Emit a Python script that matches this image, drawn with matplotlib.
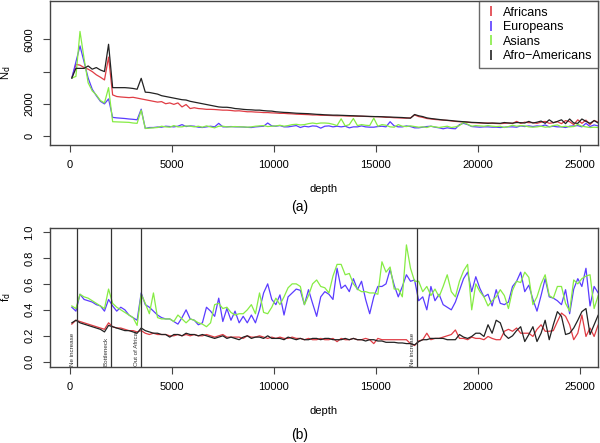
import numpy as np
import matplotlib.pyplot as plt
from matplotlib.lines import Line2D

plt.rcParams['font.family'] = ['Liberation Sans', 'DejaVu Sans']

# depth grid (one sample every 200)
depth = np.arange(100, 26101, 200)

groups = ["Africans", "Europeans", "Asians", "Afro\u2212Americans"]
colors = ["#e03c44", "#5a3cff", "#86ec44", "#222222"]

# (a) N_d
nd_afr = [3600, 4450, 4400, 4250, 4150, 4000, 3800, 3650, 3480, 4900,
          2550, 2450, 2420, 2400, 2380, 2400, 2350, 2300, 2250, 2200,
          2150, 2100, 2130, 2000, 2050, 1960, 2050, 1800, 1950, 1700,
          1750, 1700, 1680, 1650, 1650, 1640, 1620, 1600, 1600, 1580,
          1550, 1560, 1530, 1500, 1500, 1480, 1470, 1450, 1450, 1430,
          1420, 1400, 1400, 1380, 1370, 1350, 1340, 1330, 1320, 1300,
          1300, 1280, 1280, 1270, 1260, 1250, 1250, 1240, 1230, 1230,
          1220, 1220, 1210, 1200, 1200, 1190, 1180, 1150, 1150, 1130,
          1120, 1110, 1100, 1120, 1300, 1200, 1150, 1080, 1050, 1020,
          1000, 980, 960, 930, 900, 880, 870, 850, 820, 820,
          800, 790, 800, 780, 770, 760, 780, 800, 770, 900,
          780, 850, 820, 830, 780, 850, 900, 780, 820, 880,
          760, 950, 880, 700, 1000, 780, 980, 700, 960, 850,
          900]
nd_eur = [3600, 4600, 5600, 4600, 3600, 2900, 2500, 2150, 1990, 2300,
          1150, 1120, 1100, 1080, 1050, 1030, 1000, 1660, 460, 520,
          520, 550, 540, 600, 580, 560, 600, 700, 580, 620,
          600, 540, 520, 560, 600, 560, 780, 560, 560, 580,
          560, 560, 550, 530, 520, 560, 580, 600, 800, 620,
          600, 640, 560, 560, 600, 640, 520, 600, 560, 620,
          600, 480, 600, 620, 560, 600, 560, 600, 500, 560,
          560, 620, 560, 540, 540, 580, 600, 560, 880, 620,
          560, 560, 620, 580, 500, 500, 540, 580, 600, 540,
          500, 440, 500, 460, 440, 700, 780, 700, 580, 560,
          540, 560, 560, 540, 540, 520, 540, 560, 560, 540,
          620, 580, 620, 580, 620, 600, 680, 560, 600, 560,
          560, 520, 600, 620, 640, 560, 780, 580, 680, 620,
          620]
nd_asi = [3600, 3700, 6500, 4800, 3300, 2800, 2550, 2200, 2050, 3000,
          880, 870, 860, 850, 840, 800, 780, 1600, 460, 480,
          500, 520, 600, 560, 540, 640, 560, 560, 620, 600,
          560, 600, 540, 620, 560, 500, 600, 600, 560, 560,
          580, 560, 560, 540, 560, 600, 620, 640, 580, 600,
          620, 660, 600, 640, 700, 720, 680, 700, 760, 800,
          760, 800, 800, 780, 720, 640, 1060, 620, 700, 1080,
          640, 700, 660, 640, 1100, 600, 700, 660, 560, 540,
          700, 600, 580, 620, 580, 540, 560, 520, 600, 560,
          520, 560, 600, 520, 560, 640, 840, 720, 600, 640,
          620, 600, 640, 600, 580, 600, 520, 580, 660, 600,
          640, 620, 560, 540, 560, 600, 540, 560, 640, 680,
          560, 600, 560, 580, 720, 600, 560, 520, 540, 520,
          540]
nd_aam = [3600, 4200, 4200, 4200, 4350, 4150, 4250, 4100, 4000, 5700,
          3000, 3000, 3000, 3000, 2980, 2950, 2900, 3580, 2720, 2700,
          2650, 2600, 2500, 2450, 2400, 2350, 2300, 2250, 2230, 2150,
          2100, 2050, 2000, 1950, 1900, 1850, 1800, 1780, 1780, 1750,
          1700, 1680, 1650, 1630, 1620, 1600, 1600, 1570, 1550, 1540,
          1500, 1480, 1460, 1450, 1430, 1410, 1400, 1390, 1380, 1360,
          1340, 1330, 1310, 1300, 1290, 1290, 1280, 1270, 1260, 1250,
          1240, 1230, 1220, 1210, 1200, 1200, 1190, 1180, 1170, 1160,
          1150, 1140, 1120, 1100, 1330, 1250, 1200, 1120, 1080, 1050,
          1020, 990, 970, 950, 920, 900, 880, 860, 840, 830,
          820, 800, 780, 800, 790, 780, 830, 800, 790, 830,
          820, 800, 900, 800, 850, 920, 780, 1000, 820, 900,
          1000, 760, 1050, 800, 780, 1050, 900, 780, 950, 800,
          850]

# (b) f_d
fd_afr = [0.29, 0.32, 0.31, 0.30, 0.29, 0.28, 0.27, 0.26, 0.25, 0.30,
          0.27, 0.26, 0.26, 0.25, 0.24, 0.24, 0.23, 0.24, 0.22, 0.21,
          0.22, 0.21, 0.21, 0.21, 0.20, 0.20, 0.21, 0.20, 0.21, 0.20,
          0.21, 0.20, 0.20, 0.21, 0.20, 0.19, 0.20, 0.21, 0.19, 0.19,
          0.19, 0.19, 0.18, 0.20, 0.19, 0.19, 0.20, 0.19, 0.18, 0.19,
          0.18, 0.19, 0.18, 0.18, 0.19, 0.18, 0.18, 0.17, 0.18, 0.17,
          0.17, 0.18, 0.17, 0.17, 0.18, 0.155, 0.18, 0.17, 0.17, 0.18,
          0.17, 0.17, 0.18, 0.17, 0.14, 0.18, 0.17, 0.17, 0.17, 0.17,
          0.17, 0.17, 0.17, 0.14, 0.125, 0.16, 0.17, 0.22, 0.17, 0.18,
          0.18, 0.19, 0.20, 0.21, 0.245, 0.18, 0.18, 0.17, 0.19, 0.18,
          0.18, 0.17, 0.195, 0.18, 0.17, 0.17, 0.235, 0.25, 0.235, 0.26,
          0.22, 0.22, 0.22, 0.195, 0.25, 0.285, 0.235, 0.235, 0.24, 0.31,
          0.375, 0.35, 0.285, 0.17, 0.22, 0.36, 0.195, 0.26, 0.195, 0.285,
          0.31]
fd_eur = [0.42, 0.39, 0.52, 0.48, 0.47, 0.46, 0.44, 0.43, 0.39, 0.48,
          0.43, 0.39, 0.42, 0.40, 0.36, 0.34, 0.32, 0.53, 0.44, 0.42,
          0.39, 0.36, 0.34, 0.33, 0.33, 0.31, 0.29, 0.34, 0.40, 0.33,
          0.32, 0.285, 0.30, 0.42, 0.39, 0.35, 0.49, 0.31, 0.41, 0.32,
          0.39, 0.30, 0.35, 0.30, 0.36, 0.30, 0.40, 0.53, 0.60, 0.48,
          0.44, 0.515, 0.36, 0.50, 0.53, 0.56, 0.55, 0.44, 0.555, 0.45,
          0.35, 0.50, 0.54, 0.52, 0.48, 0.72, 0.565, 0.59, 0.54, 0.64,
          0.555, 0.62, 0.48, 0.37, 0.50, 0.58, 0.58, 0.60, 0.71, 0.59,
          0.50, 0.58, 0.67, 0.62, 0.63, 0.47, 0.50, 0.40, 0.58, 0.47,
          0.52, 0.44, 0.42, 0.40, 0.46, 0.55, 0.64, 0.69, 0.54, 0.655,
          0.565, 0.50, 0.52, 0.43, 0.555, 0.45, 0.44, 0.46, 0.58, 0.62,
          0.69, 0.54, 0.59, 0.48, 0.39, 0.51, 0.64, 0.50, 0.49, 0.47,
          0.44, 0.555, 0.37, 0.56, 0.64, 0.58, 0.72, 0.43, 0.58, 0.53,
          0.52]
fd_asi = [0.43, 0.41, 0.52, 0.50, 0.49, 0.47, 0.45, 0.43, 0.41, 0.56,
          0.45, 0.42, 0.40, 0.38, 0.36, 0.34, 0.28, 0.52, 0.45, 0.37,
          0.53, 0.34, 0.33, 0.33, 0.33, 0.31, 0.36, 0.33, 0.30, 0.33,
          0.32, 0.30, 0.29, 0.27, 0.30, 0.44, 0.45, 0.41, 0.42, 0.38,
          0.36, 0.37, 0.37, 0.40, 0.44, 0.37, 0.53, 0.38, 0.37, 0.42,
          0.49, 0.44, 0.50, 0.57, 0.60, 0.60, 0.58, 0.44, 0.51, 0.60,
          0.63, 0.58, 0.57, 0.53, 0.66, 0.75, 0.75, 0.67, 0.68, 0.60,
          0.56, 0.54, 0.54, 0.53, 0.53, 0.52, 0.77, 0.69, 0.73, 0.56,
          0.56, 0.50, 0.90, 0.72, 0.62, 0.62, 0.54, 0.58, 0.51, 0.56,
          0.50, 0.58, 0.67, 0.54, 0.50, 0.62, 0.70, 0.75, 0.40, 0.60,
          0.54, 0.50, 0.43, 0.47, 0.50, 0.555, 0.51, 0.41, 0.55, 0.62,
          0.61, 0.69, 0.65, 0.44, 0.50, 0.60, 0.67, 0.51, 0.49, 0.58,
          0.58, 0.45, 0.39, 0.63, 0.60, 0.64, 0.66, 0.67, 0.41, 0.51,
          0.55]
fd_aam = [0.30, 0.32, 0.30, 0.29, 0.28, 0.27, 0.26, 0.25, 0.23, 0.28,
          0.27, 0.26, 0.25, 0.24, 0.24, 0.23, 0.22, 0.26, 0.24, 0.23,
          0.22, 0.22, 0.21, 0.21, 0.19, 0.21, 0.21, 0.20, 0.22, 0.21,
          0.21, 0.20, 0.21, 0.20, 0.19, 0.18, 0.19, 0.20, 0.18, 0.19,
          0.18, 0.17, 0.19, 0.20, 0.18, 0.19, 0.19, 0.18, 0.20, 0.18,
          0.18, 0.18, 0.17, 0.19, 0.18, 0.17, 0.18, 0.17, 0.17, 0.18,
          0.18, 0.17, 0.18, 0.18, 0.17, 0.17, 0.17, 0.18, 0.17, 0.18,
          0.17, 0.17, 0.16, 0.17, 0.17, 0.16, 0.16, 0.15, 0.15, 0.15,
          0.145, 0.145, 0.14, 0.14, 0.13, 0.155, 0.17, 0.17, 0.18, 0.18,
          0.18, 0.18, 0.17, 0.17, 0.17, 0.21, 0.19, 0.18, 0.195, 0.22,
          0.22, 0.195, 0.285, 0.22, 0.32, 0.30, 0.21, 0.18, 0.20, 0.24,
          0.27, 0.156, 0.21, 0.27, 0.156, 0.22, 0.32, 0.17, 0.285, 0.386,
          0.35, 0.21, 0.22, 0.26, 0.32, 0.386, 0.41, 0.21, 0.285, 0.36,
          0.27]

events = [350, 2000, 3500, 17000]
event_labels = ["Ne increase", "Bottleneck", "Out of Africa", "Ne increase"]

fig = plt.figure(figsize=(6, 4.43), dpi=100)
ax1 = fig.add_axes([0.083, 0.673, 0.914, 0.325])
ax2 = fig.add_axes([0.083, 0.1716, 0.914, 0.3137])

box = "#444444"
for ax in (ax1, ax2):
    for s in ax.spines.values():
        s.set_color(box)
        s.set_linewidth(1.0)
    ax.tick_params(direction="out", length=5, color=box, labelsize=8, pad=6)
    ax.set_xlim(-980, 25900)
    ax.set_xticks([0, 5000, 10000, 15000, 20000, 25000])
    ax.set_xlabel("depth", fontsize=8, labelpad=10)

for vals, c in zip([nd_afr, nd_eur, nd_asi, nd_aam], colors):
    ax1.plot(depth, vals, color=c, lw=0.9)
ax1.set_ylim(-560, 8400)
ax1.set_yticks([0, 2000, 4000, 6000])
ax1.set_yticklabels(["0", "2000", "", "6000"], rotation=90, va="center")
ax1.set_ylabel("N$_{\\mathrm{d}}$", fontsize=8, labelpad=8)

handles = [Line2D([], [], color=c, marker="|", ls="none", markersize=7, mew=1.2)
           for c in colors]
ax1.legend(handles, groups, loc="upper right", fontsize=9, frameon=True,
           fancybox=False, edgecolor=box, borderaxespad=0.0,
           handlelength=1.0, handletextpad=0.5, labelspacing=0.2,
           borderpad=0.45)

for vals, c in zip([fd_afr, fd_eur, fd_asi, fd_aam], colors):
    ax2.plot(depth, vals, color=c, lw=0.9)
ax2.set_ylim(-0.04, 1.03)
ax2.set_yticks([0.0, 0.2, 0.4, 0.6, 0.8, 1.0])
ax2.set_yticklabels(["0.0", "0.2", "0.4", "0.6", "0.8", "1.0"], rotation=90, va="center")
ax2.set_ylabel("f$_{\\mathrm{d}}$", fontsize=8, labelpad=8)

for x, lab in zip(events, event_labels):
    ax2.axvline(x, color="#333333", lw=0.9)
    ax2.text(x - 90, -0.035, lab, rotation=90, ha="right", va="bottom",
             fontsize=4.5, color="#333333")

fig.text(0.5, 1 - 207 / 443, "(a)", ha="center", va="center", fontsize=10)
fig.text(0.5, 1 - 435 / 443, "(b)", ha="center", va="center", fontsize=10)

fig.savefig("out.png", dpi=100)
